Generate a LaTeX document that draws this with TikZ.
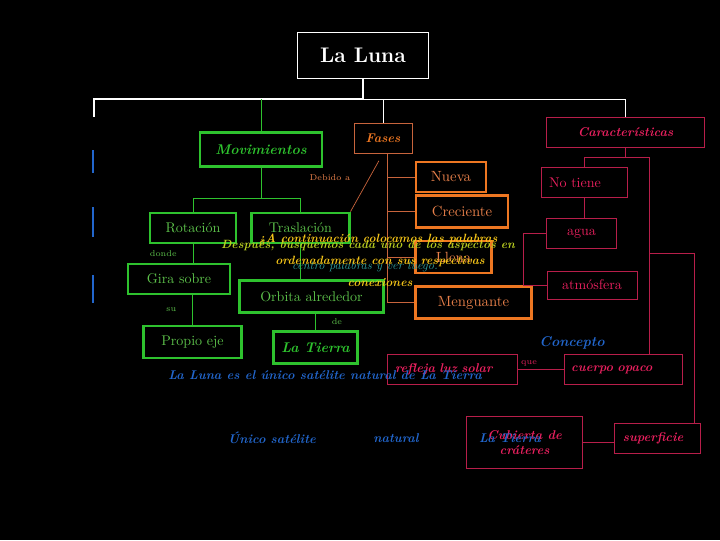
\documentclass[tikz,border=0pt]{standalone}
\usepackage{xcolor}
\usepackage{tikz}
\usetikzlibrary{positioning, calc}
\definecolor{gbox}{HTML}{2EC22E}
\definecolor{gtext}{HTML}{5CC04A}
\definecolor{obox}{HTML}{EE7722}
\definecolor{otext}{HTML}{E8804A}
\definecolor{fbox}{HTML}{C8643C}
\definecolor{pbox}{HTML}{B81E4A}
\definecolor{ptext}{HTML}{E8205E}
\definecolor{btext}{HTML}{2266CC}
\definecolor{ytext}{HTML}{F5C518}
\definecolor{ygtext}{HTML}{B8CC20}
\definecolor{tltext}{HTML}{2E9A9A}
\tikzset{
    gnode/.style={rectangle, draw=gbox, line width=2pt, text=gtext, inner sep=0pt, font=\fontsize{10}{12}\selectfont},
    onode/.style={rectangle, draw=obox, line width=2pt, text=otext, inner sep=0pt, font=\fontsize{10.5}{12}\selectfont},
    pnode/.style={rectangle, draw=pbox, line width=0.7pt, text=ptext, inner sep=0pt, font=\fontsize{10}{12}\selectfont},
    gline/.style={draw=gbox, line width=0.5pt},
    oline/.style={draw=fbox, line width=0.5pt},
    pline/.style={draw=pbox, line width=0.7pt},
    lbl/.style={font=\fontsize{6}{7}\selectfont},
    bluetext/.style={text=btext, font=\fontsize{9}{11}\selectfont\bfseries\itshape},
    note/.style={font=\fontsize{8.5}{10}\selectfont\bfseries\itshape},
}

\begin{document}
\begin{tikzpicture}[x=0.025cm, y=-0.025cm]

\fill[black] (0,0) rectangle (720,540);
\useasboundingbox (0,0) rectangle (720,540);

% Title
\node[draw=white, line width=0.6pt, text=white, minimum width=3.28cm, minimum height=1.15cm, font=\fontsize{15}{18}\selectfont\bfseries] (luna) at (363, 55.5) {La Luna};

% Movimientos branch
\node[gnode, minimum width=3.05cm, minimum height=0.83cm, text=gbox, font=\fontsize{10}{12}\selectfont\bfseries\itshape] (mov) at (261, 149.5) {Movimientos};
\node[gnode, minimum width=2.15cm, minimum height=0.75cm] (rot) at (193, 228) {Rotación};
\node[gnode, minimum width=2.43cm, minimum height=0.75cm] (tras) at (300.5, 228) {Traslación};
\node[gnode, minimum width=2.55cm, minimum height=0.75cm] (gira) at (179, 279) {Gira sobre};
\node[gnode, minimum width=3.58cm, minimum height=0.78cm] (orbita) at (311.5, 296.5) {Orbita alrededor};
\node[gnode, minimum width=2.43cm, minimum height=0.8cm] (propio) at (192.5, 342) {Propio eje};
\node[gnode, minimum width=2.08cm, minimum height=0.78cm, text=gbox, font=\fontsize{10}{12}\selectfont\bfseries\itshape] (tierra) at (315.5, 347.5) {La Tierra};

% Fases branch
\node[rectangle, draw=fbox, line width=0.6pt, text=obox, minimum width=1.45cm, minimum height=0.75cm, font=\fontsize{9}{11}\selectfont\bfseries\itshape] (fases) at (383, 138) {Fases};
\node[onode, minimum width=1.75cm, minimum height=0.75cm] (nueva) at (451, 177) {Nueva};
\node[onode, minimum width=2.3cm, minimum height=0.78cm] (creciente) at (462, 211.5) {Creciente};
\node[onode, minimum width=1.88cm, minimum height=0.8cm] (llena) at (453.5, 257) {Llena};
\node[onode, minimum width=2.88cm, minimum height=0.78cm] (menguante) at (473.5, 302.5) {Menguante};

% Caracteristicas branch
\node[pnode, minimum width=3.93cm, minimum height=0.75cm, font=\fontsize{9}{11}\selectfont\bfseries\itshape] (carac) at (625.5, 132) {Características};
\node[pnode, text width=1.75cm, inner xsep=0.2cm, minimum height=0.73cm, align=left] (notiene) at (584, 182.5) {No tiene};
\node[pnode, minimum width=1.73cm, minimum height=0.73cm] (agua) at (581.5, 233.5) {agua};
\node[pnode, minimum width=2.25cm, minimum height=0.7cm] (atmos) at (592, 285) {atmósfera};
\node[pnode, text width=2.59cm, inner xsep=0.18cm, minimum height=0.73cm, align=left, font=\fontsize{9}{11}\selectfont\bfseries\itshape] (cuerpo) at (623, 369.5) {cuerpo opaco};
\node[pnode, text width=2.87cm, inner xsep=0.18cm, minimum height=0.73cm, align=left, font=\fontsize{9}{11}\selectfont\bfseries\itshape] (refleja) at (452.5, 369.5) {refleja luz solar};
\node[pnode, minimum width=2.88cm, minimum height=1.28cm, align=center, font=\fontsize{9}{11}\selectfont\bfseries\itshape] (cubierta) at (524.5, 442.5) {Cubierta de\\cráteres};
\node[pnode, text width=1.73cm, inner xsep=0.2cm, minimum height=0.75cm, align=left, font=\fontsize{9}{11}\selectfont\bfseries\itshape] (superficie) at (657.5, 438) {superficie};

% Blue texts
\node[bluetext, font=\fontsize{10}{12}\selectfont\bfseries\itshape] (concepto) at (572, 343) {Concepto};
\node[bluetext] (frase) at (325, 375) {La Luna es el único satélite natural de La Tierra};
\node[bluetext] (unico) at (272, 438) {Único satélite};
\node[bluetext] (natural) at (396, 438) {natural};
\node[bluetext] (tierrab) at (510, 438) {La Tierra};

% Links from title
\coordinate (top) at (363, 99);
\coordinate (lft) at (94, 117);
\draw[white, line width=1.4pt] (luna.south) -- (top) -- (lft |- top) -- (lft);
\draw[white, line width=0.6pt] (top) -| (carac.north);
\draw[white, line width=0.6pt] (fases.north |- top) -- (fases.north);
\draw[gline] (mov.north |- top) -- (mov.north);

% Blue marks
\foreach \ya/\yb in {150/173, 207/237, 275/303}
    \draw[btext, line width=1.6pt] (93, \ya) -- (93, \yb);

% Movimientos links
\draw[gline] (mov.south) -- ++(0, 31) coordinate (mj);
\draw[gline] (rot.north) |- (mj) -| (tras.north);
\draw[gline] (rot.south) -- node[lbl, text=gtext, left=8pt] {donde} (rot.south |- gira.north);
\draw[gline] (propio.north |- gira.south) -- node[lbl, text=gtext, left=8pt] {su} (propio.north);
\draw[gline] (tras.south) -- (tras.south |- orbita.north);
\draw[gline] (tierra.north |- orbita.south) -- node[lbl, text=gtext, right=8pt] {de} (tierra.north);
\draw[oline, shorten >=6pt] (tras.north east) -- node[lbl, text=otext, pos=0.58, left=10pt] {Debido a} (fases.south);

% Fases links
\draw[oline] ([xshift=0.12cm]fases.south) -- ([xshift=0.12cm]fases.south |- menguante.west);
\foreach \n in {nueva, creciente, llena, menguante}
    \draw[oline] (\n.west) -- ([xshift=0.12cm]\n.west -| fases.south);

% Caracteristicas links
\coordinate (cv) at (649, 157);
\coordinate (cw) at (649, 253);
\draw[pline] (carac.south) -- (carac.south |- cv);
\draw[pline] (notiene.north) |- (cv) -- (cv |- cuerpo.north);
\draw[pline] (cw) -| ([xshift=-0.15cm]superficie.north east);
\draw[pline] (notiene.south) -- (notiene.south |- agua.north);
\draw[pline] (agua.west) -- ++(-23, 0) |- (atmos.west);
\draw[pline] (refleja.east) -- node[lbl, text=ptext, above=-1pt, pos=0.25] {que} (cuerpo.west);
\draw[pline] (cubierta.east) -- (superficie.west |- cubierta.east);

% Overlapping notes
\node[note, text=ygtext] (despues) at (368, 245) {Después, busquemos cada uno de los aspectos en};
\node[note, text=tltext, font=\fontsize{8.5}{10}\selectfont\itshape] (centro) at (365, 267) {centro palabras y ver luego.};
\node[note, text=ytext] (acont) at (378, 240) {¿A continuación colocamos las palabras};
\node[note, text=ytext] (orden) at (380, 261) {ordenadamente con sus respectivas};
\node[note, text=ytext] (conex) at (380, 283) {conexiones};

\end{tikzpicture}
\end{document}
